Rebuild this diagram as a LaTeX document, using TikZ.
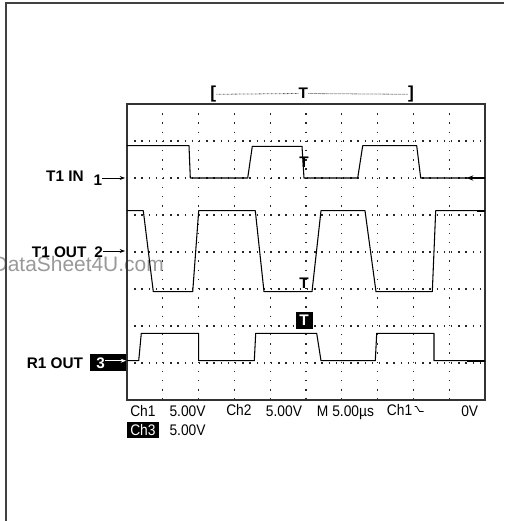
\documentclass[tikz,border=0pt]{standalone}
\usepackage{fontspec}
\setmainfont{Liberation Sans}
\newfontfamily\narrowfont[FakeStretch=0.9]{Liberation Sans}
\usetikzlibrary{positioning}
\usetikzlibrary{arrows.meta}
\tikzset{
  lbl/.style={font=\bfseries\fontsize{11.5}{12}\selectfont, inner sep=0pt},
  scl/.style={font=\narrowfont\fontsize{11.5}{12}\selectfont, inner sep=0pt, anchor=base west},
  trig/.style={font=\bfseries\fontsize{11.5}{12}\selectfont, inner sep=0pt},
  gnd/.style={-{Stealth[length=4pt,width=3pt]}, line width=0.6pt},
  wave/.style={line width=0.8pt, line join=round},
  gridv/.style={line width=1pt, black!85, dash pattern=on 1pt off 5.9pt},
  gridh/.style={line width=1pt, black!85, dash pattern=on 1pt off 4.4pt},
}
\begin{document}
\begin{tikzpicture}[x=0.75pt, y=-0.75pt]
\useasboundingbox (0,0) rectangle (504,521);
\node[font=\fontsize{15.7}{16}\selectfont, text=black!40, inner sep=0pt, anchor=base east](wm) at (164,271){DataSheet4U.com};
\draw[line width=1.2pt, black!75] (6,521) -- (6,3) -- (504,3);
\coordinate (sw) at (127,400);
\coordinate (ne) at (485,104);
\foreach \i in {1,...,9} \draw[gridv] (127+\i*35.8,104) -- ++(0,296);
\foreach \j in {1,...,7} \draw[gridh] (127,104+\j*37) -- ++(358,0);
\draw[line width=0.8pt, black!80] (sw) rectangle (ne);
\draw[wave] (127,145.7) -- (189,145.7) -- (190.3,178) -- (247.7,178) -- (252.3,146.3) -- (302,146.3) -- (304,178) -- (357.7,178) -- (362.7,145.7) -- (416.7,145.7) -- (420.7,178) -- (485,178);
\draw[wave] (127,210.7) -- (143.3,210.7) -- (153.3,291.7) -- (192.7,291.7) -- (198.7,210.7) -- (255.3,210.7) -- (264,291.7) -- (312,291.7) -- (321,210.7) -- (365,210.7) -- (376,291.7) -- (432.3,291.7) -- (435.7,210.7) -- (485,210.7);
\draw[wave] (127,360.7) -- (138.7,360.7) -- (141.3,333.3) -- (198.7,333.3) -- (198.7,360.7) -- (254.3,360.7) -- (255.7,333.3) -- (316.7,333.3) -- (321,360.7) -- (375.3,360.7) -- (376.7,333.3) -- (434,333.3) -- (434,360.7) -- (485,360.7);
\draw[line width=1.6pt] (476.7,210.7) -- (485,210.7);
\draw[line width=1.6pt] (466.7,360.7) -- (485,360.7);
\coordinate (trg) at (485,178);
\coordinate (trgtip) at (466.7,178);
\draw[line width=1.4pt, -{Stealth[length=5pt,width=4pt]}] (trg) -- (trgtip);
\node[trig](tpos) at (303.3,93.5){T};
\node[font=\bfseries\fontsize{13}{14}\selectfont, inner sep=0pt](lbr) at (213.3,94.3){[};
\node[font=\bfseries\fontsize{13}{14}\selectfont, inner sep=0pt](rbr) at (411,94.3){]};
\draw[black!65, line width=0.6pt, dash pattern=on 0.5pt off 0.5pt] (lbr.east) -- (tpos.west);
\draw[black!65, line width=0.6pt, dash pattern=on 0.5pt off 0.5pt] (tpos.east) -- (rbr.west);
\node[trig](t1) at (304,162.7){T};
\node[trig](t2) at (304,283.5){T};
\node[trig, fill=black, text=white, minimum size=12.75pt](t3) at (304,320.7){T};
\node[lbl, anchor=base east](in) at (84,181.7){T1 IN};
\node[lbl, anchor=base west](n1) at (93.3,185){1};
\coordinate (g1) at (125,178);
\draw[gnd] (n1.east |- g1) -- (g1);
\node[lbl, anchor=base east](out) at (86.7,257.3){T1 OUT};
\node[lbl, anchor=base west](n2) at (94,257.3){2};
\coordinate (g2) at (125,251);
\draw[gnd] (n2.east |- g2) -- (g2);
\node[lbl, anchor=base east](rout) at (83.3,368.7){R1 OUT};
\node[fill=black, minimum width=27pt, minimum height=12.75pt, inner sep=0pt, anchor=east](box3) at (126.7,362.5){};
\node[lbl, text=white, anchor=base west](n3) at (96,368.7){3};
\coordinate (g3) at (126,360.7);
\draw[gnd, white] (n3.east |- g3) -- (g3);
\node[scl](ch1) at (130,416){Ch1};
\node[scl](v1) at (169.3,416){5.00V};
\node[scl](ch2) at (226,415){Ch2};
\node[scl](v2) at (265.7,416){5.00V};
\node[scl](tb) at (316.7,416){M 5.00µs};
\node[scl](src) at (386.7,415){Ch1};
\draw[line width=0.6pt] (src.east) ++(2,-3) -- ++(2,0) -- ++(3,5) -- ++(4,0);
\node[scl](lev) at (461,416){0V};
\node[fill=black, minimum width=24.3pt, minimum height=11.7pt, inner sep=0pt, anchor=north west](box4) at (126.7,421.7){};
\node[scl, text=white](ch3) at (130,435){Ch3};
\node[scl](v3) at (169.3,435){5.00V};
\end{tikzpicture}
\end{document}
